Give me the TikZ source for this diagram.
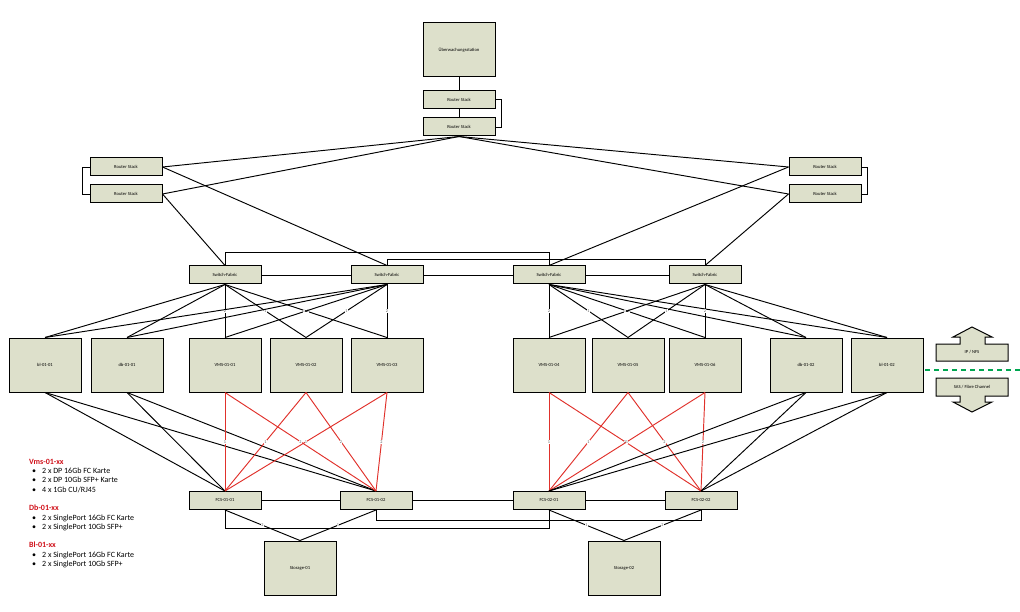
\documentclass[tikz,border=0pt]{standalone}
\usepackage{fontspec}
\setmainfont{Carlito}
\usepackage{tikz}
\usetikzlibrary{positioning}
\definecolor{Box}{HTML}{DDE0CB}
\definecolor{Fibre}{HTML}{E0312B}
\definecolor{Note}{HTML}{D0121B}
\definecolor{Lan}{HTML}{00A651}

\begin{document}
\begin{tikzpicture}[
  x=1pt, y=-1pt,
  font=\fontsize{4.6}{5}\selectfont,
  nodebox/.style={draw=black, line width=1pt, fill=Box, minimum width=72pt, minimum height=18pt, inner sep=0pt},
  bigbox/.style={nodebox, minimum height=54pt},
  link/.style={line width=0.95pt, draw=black},
  fibre/.style={line width=0.95pt, draw=Fibre},
  port/.style={font=\fontsize{4.2}{4}\selectfont, text=black!65, fill=white, inner sep=0.4pt},
  note/.style={anchor=north west, align=left, inner sep=0pt, font=\fontsize{8}{9.2}\selectfont}
]
\useasboundingbox (0,0) rectangle (1020,612);

% core
\node[bigbox] (monitor) at (459,50) {Überwachungsstation};
\node[nodebox] (rs1) at (459,99.5) {Router Stack};
\node[nodebox] (rs2) at (459,127) {Router Stack};
\node[nodebox] (lrs1) at (126,167) {Router Stack};
\node[nodebox] (lrs2) at (126,194) {Router Stack};
\node[nodebox] (rrs1) at (825,167) {Router Stack};
\node[nodebox] (rrs2) at (825,194) {Router Stack};

% switch fabric
\node[nodebox] (sf1) at (225,275) {Switch-Fabric};
\node[nodebox] (sf2) at (387,275) {Switch-Fabric};
\node[nodebox] (sf3) at (549,275) {Switch-Fabric};
\node[nodebox] (sf4) at (705,275) {Switch-Fabric};

% servers
\node[bigbox] (bl1) at (45,365) {bl-01-01};
\node[bigbox] (db1) at (127,365) {db-01-01};
\node[bigbox] (vms1) at (225,365) {VMS-01-01};
\node[bigbox] (vms2) at (306,365) {VMS-01-02};
\node[bigbox] (vms3) at (387,365) {VMS-01-03};
\node[bigbox] (vms4) at (549,365) {VMS-01-04};
\node[bigbox] (vms5) at (628,365) {VMS-01-05};
\node[bigbox] (vms6) at (705,365) {VMS-01-06};
\node[bigbox] (db2) at (806,365) {db-01-02};
\node[bigbox] (bl2) at (887,365) {bl-01-02};

% fc switches and storage
\node[nodebox] (fcs11) at (225,500.5) {FCS-01-01};
\node[nodebox] (fcs12) at (376,500.5) {FCS-01-02};
\node[nodebox] (fcs21) at (549,500.5) {FCS-02-01};
\node[nodebox] (fcs22) at (701,500.5) {FCS-02-02};
\node[bigbox] (st1) at (300,568) {Storage-01};
\node[bigbox] (st2) at (624,568) {Storage-02};

% top links
\draw[link] (monitor) -- (rs1);
\draw[link] (rs1) -- (rs2);
\draw[link] (rs1.east) -- ++(6,0) |- (rs2.east);
\draw[link] (lrs1.west) -- ++(-7,0) |- (lrs2.west);
\draw[link] (rrs1.east) -- ++(6,0) |- (rrs2.east);
\draw[link] (rs2.south) -- (lrs1.east);
\draw[link] (rs2.south) -- (lrs2.east);
\draw[link] (rs2.south) -- (rrs1.west);
\draw[link] (rs2.south) -- (rrs2.west);
\draw[link] (lrs1.east) -- (sf2.north);
\draw[link] (lrs2.east) -- (sf1.north);
\draw[link] (rrs1.west) -- (sf3.north);
\draw[link] (rrs2.west) -- (sf4.north);

% fabric mesh
\draw[link] (sf1) -- (sf2);
\draw[link] (sf2) -- (sf3);
\draw[link] (sf3) -- (sf4);
\draw[link] (sf1.north) -- ++(0,-13) -| (sf3.north);
\draw[link] (sf2.north) -- ++(0,-6) -| (sf4.north);

% fabric to servers
\draw[link] (sf1.south) -- (bl1.north);
\draw[link] (sf1.south) -- (db1.north);
\draw[link] (sf1.south) -- node[port]{2} (vms1.north);
\draw[link] (sf1.south) -- node[port]{1} (vms2.north);
\draw[link] (sf1.south) -- node[port, xshift=2pt]{2} (vms3.north);
\draw[link] (sf2.south) -- (bl1.north);
\draw[link] (sf2.south) -- (db1.north);
\draw[link] (sf2.south) -- node[port, xshift=-2pt]{1} (vms1.north);
\draw[link] (sf2.south) -- node[port]{1} (vms2.north);
\draw[link] (sf2.south) -- node[port]{2} (vms3.north);
\draw[link] (sf3.south) -- node[port]{2} (vms4.north);
\draw[link] (sf3.south) -- node[port]{1} (vms5.north);
\draw[link] (sf3.south) -- node[port, xshift=2pt]{2} (vms6.north);
\draw[link] (sf3.south) -- (db2.north);
\draw[link] (sf3.south) -- (bl2.north);
\draw[link] (sf4.south) -- node[port, xshift=-2pt]{1} (vms4.north);
\draw[link] (sf4.south) -- node[port]{1} (vms5.north);
\draw[link] (sf4.south) -- node[port]{2} (vms6.north);
\draw[link] (sf4.south) -- (db2.north);
\draw[link] (sf4.south) -- (bl2.north);

% servers to fc
\draw[link] (bl1.south) -- (fcs11.north);
\draw[link] (bl1.south) -- (fcs12.north);
\draw[link] (db1.south) -- (fcs11.north);
\draw[link] (db1.south) -- (fcs12.north);
\draw[fibre] (vms1.south) -- node[port]{1} (fcs11.north);
\draw[fibre] (vms1.south) -- node[port]{2} (fcs12.north);
\draw[fibre] (vms2.south) -- node[port]{1} (fcs11.north);
\draw[fibre] (vms2.south) -- node[port]{2} (fcs12.north);
\draw[fibre] (vms3.south) -- node[port]{1} (fcs11.north);
\draw[fibre] (vms3.south) -- node[port]{2} (fcs12.north);
\draw[fibre] (vms4.south) -- node[port]{1} (fcs21.north);
\draw[fibre] (vms4.south) -- node[port]{2} (fcs22.north);
\draw[fibre] (vms5.south) -- node[port]{1} (fcs21.north);
\draw[fibre] (vms5.south) -- node[port]{2} (fcs22.north);
\draw[fibre] (vms6.south) -- node[port]{1} (fcs21.north);
\draw[fibre] (vms6.south) -- node[port]{2} (fcs22.north);
\draw[link] (db2.south) -- (fcs21.north);
\draw[link] (db2.south) -- (fcs22.north);
\draw[link] (bl2.south) -- (fcs21.north);
\draw[link] (bl2.south) -- (fcs22.north);

% fc mesh and storage
\draw[link] (fcs11) -- (fcs12);
\draw[link] (fcs12) -- (fcs21);
\draw[link] (fcs21) -- (fcs22);
\draw[link] (fcs11.south) -- ++(0,18) -| (fcs21.south);
\draw[link] (fcs12.south) -- ++(0,10) -| (fcs22.south);
\draw[link] (fcs11.south) -- node[port]{2} (st1.north);
\draw[link] (fcs12.south) -- node[port]{1} (st1.north);
\draw[link] (fcs21.south) -- node[port]{1} (st2.north);
\draw[link] (fcs22.south) -- node[port]{2} (st2.north);

% legend arrows
\draw[line width=1pt, fill=Box] (936,344) -- (960,344) -- (960,337) -- (953,337) -- (972,327) -- (992,337) -- (985,337) -- (985,344) -- (1008,344) -- (1008,361) -- (936,361) -- cycle;
\node (ipnfs) at (972,352.5) {IP / NFS};
\draw[line width=1pt, fill=Box] (936,378) -- (1008,378) -- (1008,396) -- (985,396) -- (985,402) -- (992,402) -- (972,412) -- (953,402) -- (960,402) -- (960,396) -- (936,396) -- cycle;
\node (sasfc) at (972,387) {SAS / Fibre Channel};
\draw[Lan, line width=2.6pt, dash pattern=on 5pt off 4pt] (925,370) -- (1020,370);

% notes
\node[note] (vmsnote) at (29,459) {{\bfseries\color{Note}Vms-01-xx}\\
  \hspace*{3pt}\textbullet\hspace{6pt}2 x DP 16Gb FC Karte\\
  \hspace*{3pt}\textbullet\hspace{6pt}2 x DP 10Gb SFP+ Karte\\
  \hspace*{3pt}\textbullet\hspace{6pt}4 x 1Gb CU/RJ45};
\node[note] (dbnote) at (29,505) {{\bfseries\color{Note}Db-01-xx}\\
  \hspace*{3pt}\textbullet\hspace{6pt}2 x SinglePort 16Gb FC Karte\\
  \hspace*{3pt}\textbullet\hspace{6pt}2 x SinglePort 10Gb SFP+};
\node[note] (blnote) at (29,542) {{\bfseries\color{Note}Bl-01-xx}\\
  \hspace*{3pt}\textbullet\hspace{6pt}2 x SinglePort 16Gb FC Karte\\
  \hspace*{3pt}\textbullet\hspace{6pt}2 x SinglePort 10Gb SFP+};
\end{tikzpicture}
\end{document}
